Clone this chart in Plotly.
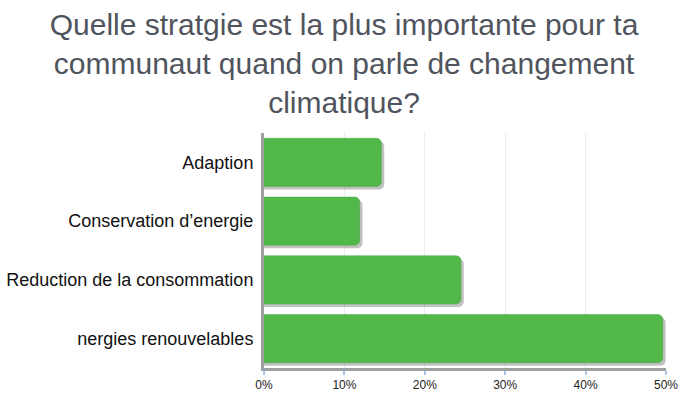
import plotly.graph_objects as go

categories = ["Adaption", "Conservation d’energie", "Reduction de la consommation", "nergies renouvelables"]
values = [14.6, 11.9, 24.5, 49.6]
tick_vals = [0, 10, 20, 30, 40, 50]
tick_text = ["0%", "10%", "20%", "30%", "40%", "50%"]
title_text = "Quelle stratgie est la plus importante pour ta<br>communaut quand on parle de changement<br>climatique?"

BAR_W = 0.82
fig = go.Figure()
# soft drop shadow behind each bar
fig.add_trace(go.Bar(
    x=[v + 0.35 for v in values], y=categories, orientation="h",
    marker=dict(color="rgba(80,80,80,0.35)", cornerradius=5, line=dict(width=0)),
    width=BAR_W, offset=-BAR_W / 2 + 0.05, hoverinfo="skip",
))
fig.add_trace(go.Bar(
    x=values, y=categories, orientation="h",
    marker=dict(color="#52b84a", cornerradius=5,
                line=dict(color="#4aa843", width=0.5)),
    width=BAR_W, offset=-BAR_W / 2, hoverinfo="x+y",
))

fig.update_layout(
    width=688, height=393, barmode="overlay",
    margin=dict(l=264, r=22, t=133, b=25, autoexpand=False),
    paper_bgcolor="white", plot_bgcolor="white",
    showlegend=False,
    title=dict(text=title_text, x=0.5, xanchor="center", y=0.910, yanchor="top",
               font=dict(family="Liberation Sans, Arial, sans-serif", size=30, color="#50545c")),
    font=dict(family="Liberation Sans, Arial, sans-serif", color="#222"),
)
fig.update_xaxes(
    range=[0, 50], tickvals=tick_vals, ticktext=tick_text, automargin=False,
    showgrid=True, gridcolor="#e6ecf2", gridwidth=1,
    showline=True, linecolor="#a0a0a0", linewidth=3,
    ticks="outside", tickcolor="#a9c8e8", ticklen=4, tickwidth=2,
    tickfont=dict(size=12, color="#222"), zeroline=False, fixedrange=True,
)
fig.update_yaxes(
    autorange="reversed", showline=True, linecolor="#a0a0a0", linewidth=3, automargin=False,
    ticks="", tickfont=dict(size=18, color="#111"), ticklabelstandoff=4, fixedrange=True,
)

fig.write_html("out.html", config={"displayModeBar": False},
               post_script="document.body.style.margin='0px';")
